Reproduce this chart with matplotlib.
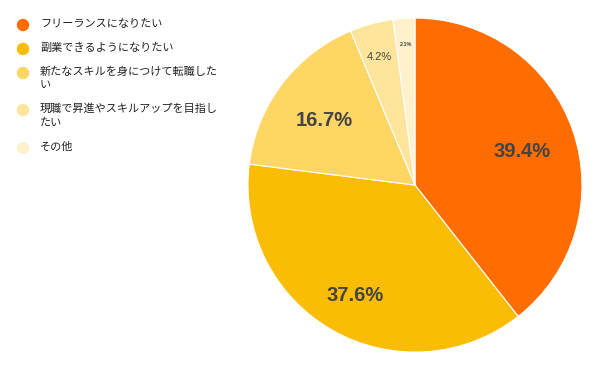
import numpy as np
import matplotlib
matplotlib.use("Agg")
import matplotlib.pyplot as plt
from matplotlib.patches import Circle

plt.rcParams['font.family'] = ['Noto Sans CJK JP', 'DejaVu Sans']

labels = ["フリーランスになりたい", "副業できるようになりたい",
          "新たなスキルを身につけて転職した\nい", "現職で昇進やスキルアップを目指し\nたい", "その他"]
values = [39.4, 37.6, 16.7, 4.2, 2.1]
colors = ["#ff6d01", "#fbbc04", "#fdd663", "#fee59b", "#fef1cc"]

# label look per slice: distance, size, bold
lab_dist = [0.68, 0.73, 0.68, 0.81, 0.85]
lab_size = [14.5, 14.5, 14.5, 8, 4]
lab_bold = [True, True, True, False, True]

fig = plt.figure(figsize=(6, 3.71), dpi=100)
ax = fig.add_axes([0.4133, 0.051, 0.5567, 0.9003])
wedges, _ = ax.pie(values, colors=colors, startangle=90, counterclock=False,
                   wedgeprops=dict(edgecolor="white", linewidth=0.8))
ax.set_xlim(-1, 1)
ax.set_ylim(-1, 1)
ax.set_aspect("equal")

for w, v, d, s, b in zip(wedges, values, lab_dist, lab_size, lab_bold):
    ang = np.deg2rad((w.theta1 + w.theta2) / 2)
    ax.annotate(f"{v}%", (d * np.cos(ang), d * np.sin(ang)), xytext=(0, -s * 0.2),
                textcoords="offset points", ha="center", va="center",
                fontsize=s, fontweight="bold" if b else "normal", color="#444444",
                family=["Liberation Sans", "DejaVu Sans"])

# legend on the left
ys = [25, 49, 73, 110, 148]
for lab, c, y in zip(labels, colors, ys):
    fig.add_artist(Circle((0.23, (371 - y) / 100), 0.055, color=c,
                          transform=fig.dpi_scale_trans))
    fig.text(40 / 600, 1 - (y - 6.5) / 371, lab, fontsize=8, color="#222222",
             va="top", ha="left", linespacing=1.45)

fig.savefig("out.png", dpi=100)
